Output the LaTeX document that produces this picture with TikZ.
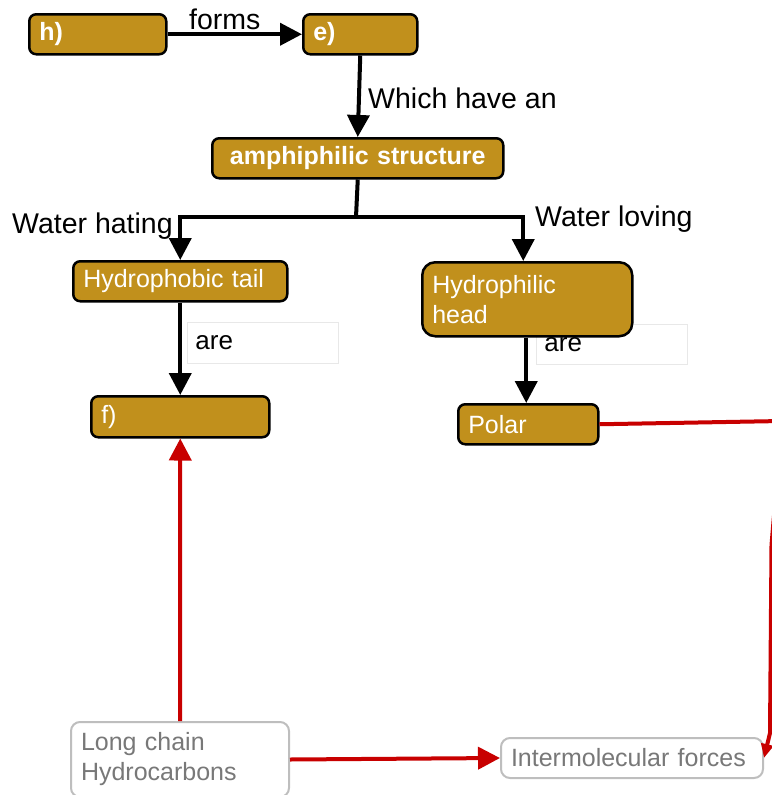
\documentclass[tikz,border=0pt]{standalone}
\usepackage{fontspec}
\setmainfont{Liberation Sans}
\usetikzlibrary{arrows.meta}
\definecolor{gold}{RGB}{193,144,28}
\definecolor{rd}{RGB}{200,0,0}
\definecolor{bord}{RGB}{190,190,190}
\definecolor{lbord}{RGB}{232,232,232}
\definecolor{gtext}{RGB}{120,120,120}
\begin{document}
\begin{tikzpicture}[x=1pt,y=-1pt,
  gbox/.style={draw=black, line width=2.5pt, fill=gold, rounded corners=7pt, text=white,
    font=\fontsize{25}{30}\selectfont, inner xsep=10pt, inner ysep=0pt, anchor=north west, align=left},
  wbox/.style={draw=bord, line width=2pt, fill=white, rounded corners=9pt, text=gtext,
    font=\fontsize{25}{30}\selectfont, inner xsep=10pt, inner ysep=0pt, anchor=north west, align=left},
  lblbox/.style={draw=lbord, line width=0.8pt, fill=white, text=black,
    font=\fontsize{26}{30}\selectfont, inner xsep=8pt, inner ysep=0pt, anchor=north west, align=left},
  lbl/.style={font=\fontsize{28.5}{32}\selectfont, inner sep=0pt, anchor=base west},
  blk/.style={draw=black, line width=4pt, -{Triangle[length=22pt,width=22pt]}},
  blkline/.style={draw=black, line width=4pt},
  red/.style={draw=rd, line width=4pt, -{Triangle[length=22pt,width=22pt]}}
]
\useasboundingbox (0,0) rectangle (771,795);

% label boxes (behind)
\node[lblbox, text width=135pt, minimum height=41pt] (are1) at (187,322) {are};
\node[lblbox, text width=135pt, minimum height=40pt] (are2) at (536,324) {are};

% gold boxes
\node[gbox, text width=117pt, minimum height=40pt, font=\fontsize{25}{30}\selectfont\bfseries] (h) at (28,13) {h)};
\node[gbox, text width=94pt, minimum height=40pt, font=\fontsize{25}{30}\selectfont\bfseries] (e) at (302,13) {e)};
\node[gbox, text width=271pt, minimum height=40pt, align=center, font=\fontsize{25}{30}\selectfont\bfseries] (amph) at (211,137) {amphiphilic structure};
\node[gbox, text width=194pt, minimum height=40pt] (tail) at (72,260) {Hydrophobic tail};
\node[gbox, text width=190pt, minimum height=74pt, rounded corners=13pt] (head) at (421,261) {Hydrophilic\\head};
\node[gbox, text width=158pt, minimum height=41pt] (f) at (90,395) {f)};
\node[gbox, text width=120pt, minimum height=40pt] (polar) at (457,403) {Polar};

% white boxes
\node[wbox, text width=198pt, minimum height=75pt] (long) at (70,721) {Long chain\\Hydrocarbons};
\node[wbox, text width=242pt, minimum height=40pt] (inter) at (500,737) {Intermolecular forces};

% labels
\node[lbl] (lforms) at (189,29) {forms};
\node[lbl] (lwhich) at (368,108) {Which have an};
\node[lbl] (lhate) at (12,233) {Water hating};
\node[lbl] (llove) at (535,226) {Water loving};

% black connectors
\draw[blk] (h.east) -- (e.west);
\draw[blk] (e.south) -- (amph.north);
\coordinate (j) at (356,217);
\draw[blkline] (amph.south) -- (j);
\draw[blk] (j) -| (tail.north);
\draw[blk] (j) -| ([xshift=-4pt]head.north);
\draw[blk] (tail.south) -- (f.north);
\draw[blk] ([xshift=-1pt]head.south) -- ([xshift=-2pt]polar.north);

% red connectors
\draw[red] (long.north) -- (f.south);
\draw[red] (long.east) -- (inter.west);
\coordinate (r1) at (782,421);
\coordinate (r2) at (771.5,545);
\coordinate (r3) at (770,733);
\draw[red, -{Triangle[length=14pt,width=12pt]}] (polar.east) -- (r1) -- (r2) -- (r3) -- (inter.east);
\end{tikzpicture}
\end{document}
